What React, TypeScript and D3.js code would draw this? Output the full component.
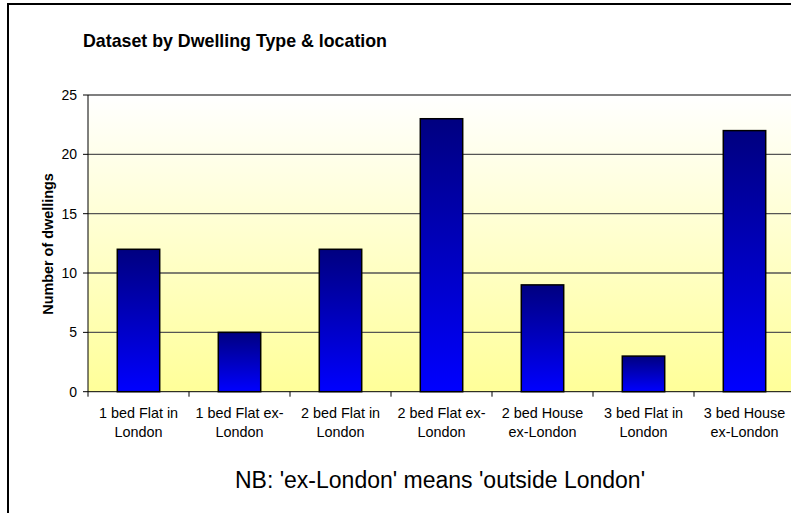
import React from "react";
import * as d3 from "d3";

const categories: string[][] = [
  ["1 bed Flat in", "London"],
  ["1 bed Flat ex-", "London"],
  ["2 bed Flat in", "London"],
  ["2 bed Flat ex-", "London"],
  ["2 bed House", "ex-London"],
  ["3 bed Flat in", "London"],
  ["3 bed House", "ex-London"],
];
const values: number[] = [12, 5, 12, 23, 9, 3, 22];
const yTicks: number[] = [0, 5, 10, 15, 20, 25];
const title = "Dataset by Dwelling Type & location";
const yTitle = "Number of dwellings";
const note = "NB: 'ex-London' means 'outside London'";

const W = 791;
const H = 513;
const FONT = "'Liberation Sans', Arial, Helvetica, sans-serif";

export default function App() {
  const left = 88;
  const right = 795;
  const top = 95;
  const bottom = 391.7;
  const idx = categories.map((_, i) => String(i));
  const x = d3.scaleBand<string>().domain(idx).range([left, right]).paddingInner(0.58).paddingOuter(0.29);
  const xb = d3.scaleBand<string>().domain(idx).range([left, right]);
  const y = d3.scaleLinear().domain([0, 25]).range([bottom, top]);

  return (
    <svg width={W} height={H} style={{ position: "absolute", left: 0, top: 0, display: "block" }}>
      <defs>
        <linearGradient id="bg" x1="0" y1="0" x2="0" y2="1">
          <stop offset="0" stopColor="#FFFFFF" />
          <stop offset="1" stopColor="#FFFF99" />
        </linearGradient>
        <linearGradient id="bar" x1="0" y1="0" x2="0" y2="1">
          <stop offset="0" stopColor="#000080" />
          <stop offset="1" stopColor="#0000FF" />
        </linearGradient>
      </defs>
      <rect x={0} y={0} width={W} height={H} fill="#FFFFFF" />
      <rect x={8} y={4} width={W + 10} height={H + 10} fill="none" stroke="#000" strokeWidth={2} />
      <text x={83} y={47} fontFamily={FONT} fontSize={17.8} fontWeight="bold" fill="#000">{title}</text>

      <rect x={left} y={top} width={right - left} height={bottom - top} fill="url(#bg)" />
      {yTicks.filter((t) => t > 0).map((t) => (
        <line key={"g" + t} x1={left} x2={right} y1={y(t)} y2={y(t)} stroke="#555555" strokeWidth={1.3} />
      ))}
      {values.map((v, i) => (
        <rect key={"b" + i} x={x(String(i))} y={y(v)} width={x.bandwidth()} height={y(0) - y(v)}
          fill="url(#bar)" stroke="#000" strokeWidth={1.5} />
      ))}
      <line x1={left} x2={left} y1={top} y2={bottom} stroke="#000" strokeWidth={1} />
      <line x1={left} x2={right} y1={bottom} y2={bottom} stroke="#000" strokeWidth={1} />
      {yTicks.map((t) => (
        <g key={"t" + t}>
          <line x1={left - 5} x2={left} y1={y(t)} y2={y(t)} stroke="#000" strokeWidth={1} />
          <text x={77} y={y(t)} dy="0.35em" textAnchor="end" fontFamily={FONT} fontSize={14} fill="#000">{t}</text>
        </g>
      ))}
      {idx.concat([String(idx.length)]).map((k, i) => {
        const xp = left + i * xb.step();
        return <line key={"xt" + i} x1={xp} x2={xp} y1={bottom} y2={bottom + 5} stroke="#000" strokeWidth={1} />;
      })}
      {categories.map((lines, i) => {
        const cx = (xb(String(i)) as number) + xb.bandwidth() / 2;
        return (
          <text key={"xl" + i} textAnchor="middle" fontFamily={FONT} fontSize={14.4} fill="#000">
            <tspan x={cx} y={418}>{lines[0]}</tspan>
            <tspan x={cx} y={436.5}>{lines[1]}</tspan>
          </text>
        );
      })}
      <text transform={`translate(52.5,244) rotate(-90)`} textAnchor="middle" fontFamily={FONT} fontSize={14.4} fontWeight="bold" fill="#000">{yTitle}</text>
      <text x={440} y={487.5} textAnchor="middle" fontFamily={FONT} fontSize={23} fill="#000">{note}</text>
    </svg>
  );
}
